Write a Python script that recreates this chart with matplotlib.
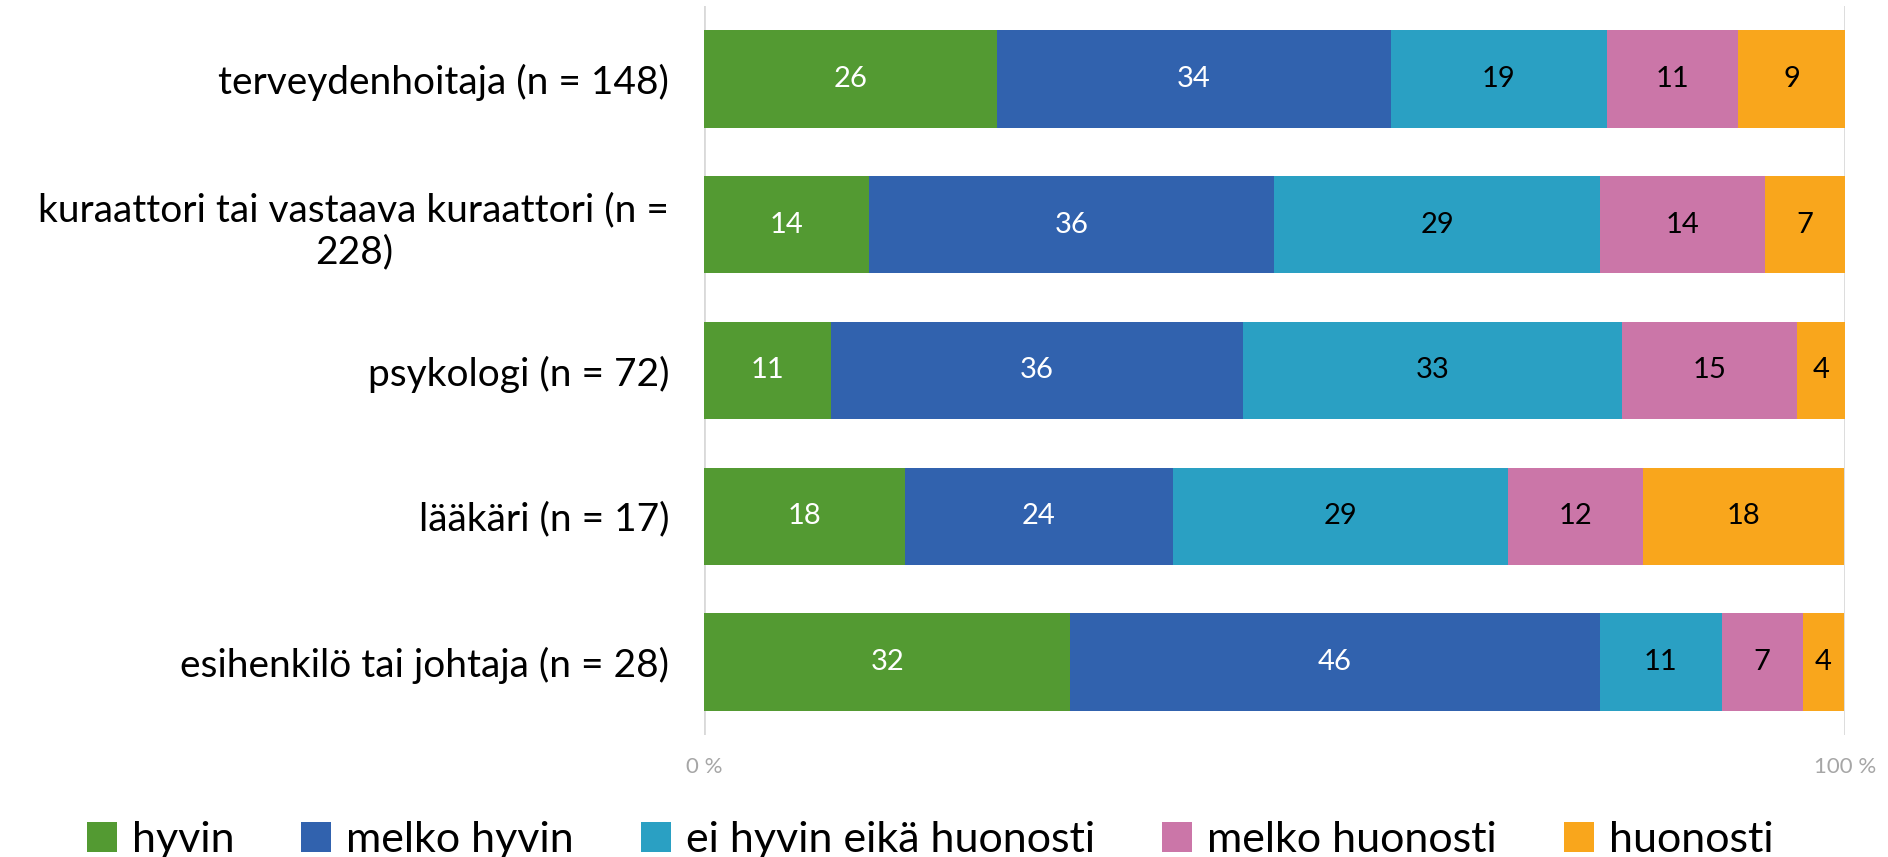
import matplotlib.pyplot as plt

plt.rcParams['font.family'] = ['Lato', 'DejaVu Sans']

categories = ["terveydenhoitaja (n = 148)",
              "kuraattori tai vastaava kuraattori (n =\n228)",
              "psykologi (n = 72)",
              "lääkäri (n = 17)",
              "esihenkilö tai johtaja (n = 28)"]
series = ["hyvin", "melko hyvin", "ei hyvin eikä huonosti", "melko huonosti", "huonosti"]

# percentages per row (green, blue, cyan, pink, orange)
hyvin = [25.7, 14.5, 11.1, 17.6, 32.1]
melko_hyvin = [34.5, 35.5, 36.1, 23.5, 46.4]
ei_hyvin_eika_huonosti = [18.9, 28.5, 33.3, 29.4, 10.7]
melko_huonosti = [11.5, 14.5, 15.3, 11.8, 7.1]
huonosti = [9.5, 7.0, 4.2, 17.6, 3.6]

# labels shown on the bars
lab_hyvin = [26, 14, 11, 18, 32]
lab_melko_hyvin = [34, 36, 36, 24, 46]
lab_ei = [19, 29, 33, 29, 11]
lab_melko_huonosti = [11, 14, 15, 12, 7]
lab_huonosti = [9, 7, 4, 18, 4]

colors = ["#539A32", "#3162AE", "#2AA0C3", "#CB76A8", "#F9A61C"]
text_colors = ["white", "white", "black", "black", "black"]

values = [hyvin, melko_hyvin, ei_hyvin_eika_huonosti, melko_huonosti, huonosti]
labels = [lab_hyvin, lab_melko_hyvin, lab_ei, lab_melko_huonosti, lab_huonosti]

fig = plt.figure(figsize=(18.88, 8.57), dpi=100)
ax = fig.add_axes([0.3729, 0.1424, 0.9772 - 0.3729, 0.993 - 0.1424])

y = list(range(len(categories)))
left = [0.0] * len(categories)
for vals, labs, col, tcol, name in zip(values, labels, colors, text_colors, series):
    bars = ax.barh(y, vals, left=left, height=0.667, color=col, label=name, zorder=2)
    for b, lab in zip(bars, labs):
        ax.text(b.get_x() + b.get_width() / 2, b.get_y() + b.get_height() / 2, str(lab),
                ha='center', va='center', color=tcol, fontsize=21, zorder=3)
    left = [l + v for l, v in zip(left, vals)]

ax.set_xlim(0, 100)
ax.set_ylim(len(categories) - 0.5, -0.5)
ax.set_yticks(y)
ax.set_yticklabels(categories, fontsize=28, multialignment='center')
ax.set_xticks([0, 100])
ax.set_xticklabels(["0 %", "100 %"], fontsize=16, color="#A6A6A6")
ax.tick_params(axis='y', length=0, pad=25)
ax.tick_params(axis='x', length=0, pad=16)
for s in ax.spines.values():
    s.set_visible(False)
ax.xaxis.grid(True, color="#D9D9D9", linewidth=2, zorder=0)
ax.set_axisbelow(True)

fig.legend(loc='center', bbox_to_anchor=(0.4926, 0.02), ncol=5, frameon=False,
           fontsize=31, handlelength=0.7, handleheight=0.7, handletextpad=0.35,
           columnspacing=1.55, borderaxespad=0)

fig.savefig("out.png", dpi=100)
